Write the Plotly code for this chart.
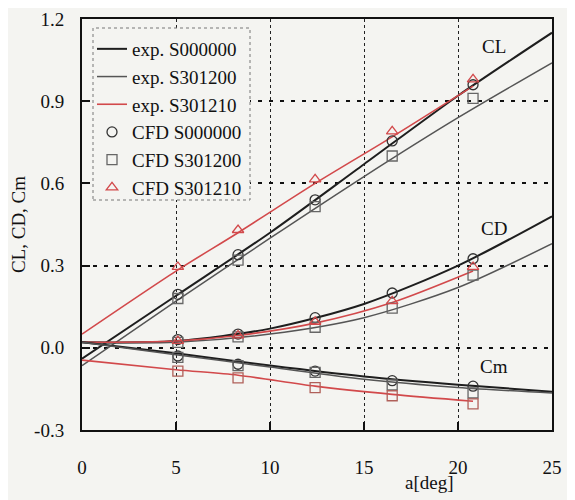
import plotly.graph_objects as go

# ---- data ----
alpha_exp = [0, 5, 10, 15, 20, 25]
alpha_exp_red = [0, 5, 8.3, 12.4, 16.5, 20.8]
CL_exp_S000000 = [-0.04, 0.19, 0.42, 0.67, 0.92, 1.15]
CL_exp_S301200 = [-0.065, 0.17, 0.40, 0.625, 0.84, 1.04]
CL_exp_S301210 = [0.05, 0.28, 0.42, 0.60, 0.77, 0.955]
CD_exp_S000000 = [0.02, 0.025, 0.07, 0.16, 0.30, 0.48]
CD_exp_S301200 = [0.02, 0.02, 0.05, 0.11, 0.22, 0.38]
CD_exp_S301210 = [0.02, 0.025, 0.045, 0.09, 0.165, 0.28]
Cm_exp_S000000 = [0.02, -0.02, -0.065, -0.105, -0.135, -0.16]
Cm_exp_S301200 = [0.02, -0.025, -0.07, -0.115, -0.145, -0.165]
Cm_exp_S301210 = [-0.045, -0.08, -0.10, -0.14, -0.17, -0.195]

alpha_cfd = [5.1, 8.3, 12.4, 16.5, 20.8]
CL_cfd_S000000 = [0.195, 0.34, 0.54, 0.755, 0.96]
CL_cfd_S301200 = [0.18, 0.32, 0.515, 0.70, 0.91]
CL_cfd_S301210 = [0.295, 0.43, 0.615, 0.79, 0.98]
CD_cfd_S000000 = [0.03, 0.05, 0.11, 0.20, 0.325]
CD_cfd_S301200 = [0.02, 0.04, 0.075, 0.145, 0.265]
CD_cfd_S301210 = [0.025, 0.045, 0.095, 0.17, 0.295]
Cm_cfd_S000000 = [-0.03, -0.06, -0.085, -0.12, -0.14]
Cm_cfd_S301200 = [-0.035, -0.065, -0.09, -0.135, -0.165]
Cm_cfd_S301210 = [-0.085, -0.11, -0.145, -0.175, -0.205]

x_ticks = [0, 5, 10, 15, 20, 25]
y_ticks = [-0.3, 0.0, 0.3, 0.6, 0.9, 1.2]
y_tick_text = ["-0.3", "0.0", "0.3", "0.6", "0.9", "1.2"]

BLACK = "#1e1e1e"
GRAY = "#555555"
RED = "#d2494b"
SQ_RED = "#b0605a"
BG = "#f4f4f1"
FONT = "Liberation Serif, Times New Roman, serif"

fig = go.Figure()

def exp_line(x, y, color, width, name, show):
    fig.add_trace(go.Scatter(x=x, y=y, mode="lines", name=name, showlegend=show,
                             legendgroup=name,
                             line=dict(color=color, width=width, shape="spline", smoothing=0.8)))

def cfd_pts(x, y, color, symbol, name, show, size=10):
    fig.add_trace(go.Scatter(x=x, y=y, mode="markers", name=name, showlegend=show,
                             legendgroup=name,
                             marker=dict(symbol=symbol, size=size, color=color,
                                         line=dict(color=color, width=1.3))))

exp_line(alpha_exp, CL_exp_S000000, BLACK, 2, "exp. S000000", True)
exp_line(alpha_exp, CL_exp_S301200, GRAY, 1.5, "exp. S301200", True)
exp_line(alpha_exp_red, CL_exp_S301210, RED, 1.6, "exp. S301210", True)
exp_line(alpha_exp, CD_exp_S000000, BLACK, 2, "exp. S000000", False)
exp_line(alpha_exp, CD_exp_S301200, GRAY, 1.5, "exp. S301200", False)
exp_line(alpha_exp_red, CD_exp_S301210, RED, 1.6, "exp. S301210", False)
exp_line(alpha_exp, Cm_exp_S000000, BLACK, 2, "exp. S000000", False)
exp_line(alpha_exp, Cm_exp_S301200, GRAY, 1.5, "exp. S301200", False)
exp_line(alpha_exp_red, Cm_exp_S301210, RED, 1.6, "exp. S301210", False)

cfd_pts(alpha_cfd, CL_cfd_S000000, "#333333", "circle-open", "CFD S000000", True)
cfd_pts(alpha_cfd, CL_cfd_S301200, "#666666", "square-open", "CFD S301200", True)
cfd_pts(alpha_cfd, CL_cfd_S301210, RED, "triangle-up-open", "CFD S301210", True)
cfd_pts(alpha_cfd, CD_cfd_S000000, "#333333", "circle-open", "CFD S000000", False)
cfd_pts(alpha_cfd, CD_cfd_S301200, "#666666", "square-open", "CFD S301200", False)
cfd_pts(alpha_cfd, CD_cfd_S301210, RED, "triangle-up-open", "CFD S301210", False)
cfd_pts(alpha_cfd, Cm_cfd_S000000, "#333333", "circle-open", "CFD S000000", False)
cfd_pts(alpha_cfd, Cm_cfd_S301200, "#666666", "square-open", "CFD S301200", False)
cfd_pts(alpha_cfd, Cm_cfd_S301210, SQ_RED, "square-open", "CFD S301210", False)

for txt, xx, yy in [("CL", 21.9, 1.10), ("CD", 21.9, 0.435), ("Cm", 21.9, -0.07)]:
    fig.add_annotation(x=xx, y=yy, text=txt, showarrow=False,
                       font=dict(family=FONT, size=19, color="#111"))

fig.add_annotation(x=18.5, y=-0.3, yshift=-52, text="a[deg]", showarrow=False,
                   font=dict(family=FONT, size=19, color="#111"))

# plot area in page pixels: x 82..552, y 19..430 (page has an 8px body margin)
PX0, PX1, PY0, PY1 = 82, 552, 19, 430
W, H = PX1 - PX0, PY1 - PY0

fig.add_shape(type="rect", xref="paper", yref="paper", layer="above",
              x0=(93 - PX0) / W, x1=(250 - PX0) / W,
              y0=(PY1 - 200) / H, y1=(PY1 - 28) / H,
              line=dict(color="#777", width=1, dash="dot"), fillcolor=BG)

fig.update_layout(
    width=567, height=492,
    margin=dict(l=PX0 - 8, r=575 - PX1, t=PY0 - 8, b=500 - PY1),
    paper_bgcolor=BG, plot_bgcolor=BG,
    font=dict(family=FONT, size=18, color="#111"),
    showlegend=True,
    legend=dict(x=(92 - PX0) / W, y=(PY1 - 30) / H, xanchor="left", yanchor="top",
                bgcolor="rgba(0,0,0,0)", borderwidth=0,
                font=dict(family=FONT, size=19, color="#111"),
                itemwidth=30, tracegroupgap=0),
    xaxis=dict(range=[0, 25], tickvals=x_ticks, ticks="inside", ticklen=8, tickwidth=1.5,
               tickcolor="#111", showline=True, linecolor="#111", linewidth=2, mirror=True,
               showgrid=True, gridcolor="#222", gridwidth=1, griddash="dot",
               zeroline=False, ticklabelstandoff=19, automargin=False,
               ticklabeloverflow="allow",
               tickfont=dict(family=FONT, size=19)),
    yaxis=dict(range=[-0.3, 1.2], tickvals=y_ticks, ticktext=y_tick_text, ticks="inside",
               ticklen=8, tickwidth=1.5, tickcolor="#111",
               showline=True, linecolor="#111", linewidth=2, mirror=True,
               showgrid=True, gridcolor="#111", gridwidth=2, griddash="4px,7px",
               zeroline=False, ticklabelstandoff=12, automargin=False,
               ticklabeloverflow="allow",
               tickfont=dict(family=FONT, size=19),
               title=dict(text="CL, CD, Cm", standoff=8, font=dict(family=FONT, size=19))),
)

fig.write_html("out.html")
